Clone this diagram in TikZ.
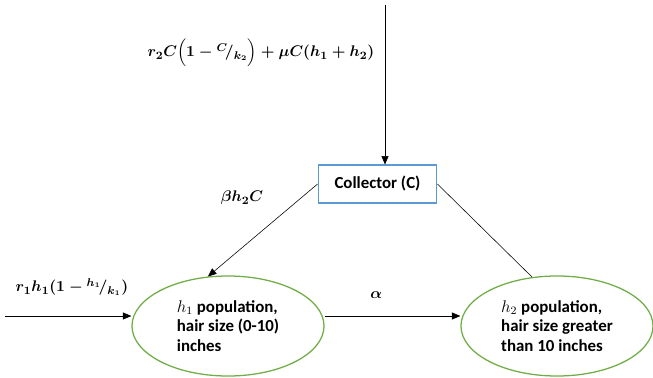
\documentclass[tikz,border=0pt]{standalone}
\usepackage{amsmath}
\usepackage{fontspec}
\setmainfont{Carlito}
\usepackage{tikz}
\usetikzlibrary{arrows.meta, positioning, shapes.geometric}

\definecolor{boxblue}{RGB}{91,155,213}
\definecolor{popgreen}{RGB}{112,173,71}

\begin{document}
\begin{tikzpicture}[
    x=0.025cm, y=-0.025cm,
    >={Triangle[length=6pt,width=5pt]},
    block/.style = {draw=boxblue, line width=1.3pt, minimum width=2.95cm, minimum height=0.93cm, font=\large\bfseries},
    popul/.style = {draw=popgreen, line width=0.9pt, ellipse, minimum width=4.8cm, minimum height=2.5cm, align=left, font=\large\bfseries},
    lab/.style   = {font=\fontsize{11}{13}\selectfont\boldmath}
]
    \useasboundingbox (0,0) rectangle (653,377);

    \node[block] (collector) at (377.5,184) {Collector (C)};
    \node[popul] (h1) at (228,326) {$h_1$ population,\\hair size (0-10)\\inches};
    \node[popul] (h2) at (557,326) {$h_2$ population,\\hair size greater\\than 10 inches};

    \coordinate (top) at (385,5);
    \coordinate (in) at (5,316);

    \node[lab] (growthC) at (261,53) {$r_2C\Bigl(1-{}^{C}\!/_{k_2}\Bigr)+\mu C(h_1+h_2)$};
    \node[lab] (growthh) at (72,287) {$r_1h_1(1-{}^{h_1}\!/_{k_1})$};
    \node[lab] (catch) at (242,198) {$\beta h_2C$};

    \draw[->] (top) -- (top |- collector.north);
    \draw[->] (in) -- (h1.west |- in);
    \draw[->] (collector.west) -- (h1.112);
    \draw (collector.east) -- (h2.117);

    % growth h1 -> h2
    \draw[->] ([yshift=0.25cm]h1.east) -- node[pos=0.38, above=9pt, lab]{$\alpha$} ([yshift=0.25cm]h2.west);
\end{tikzpicture}
\end{document}
